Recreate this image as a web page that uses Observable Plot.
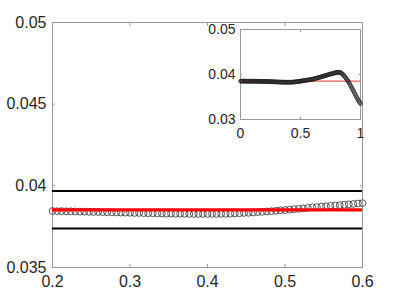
<!DOCTYPE html>
<html>
<head>
<meta charset="utf-8">
<script src="https://cdn.jsdelivr.net/npm/d3@7"></script>
<script src="https://cdn.jsdelivr.net/npm/@observablehq/plot@0.6"></script>
<style>
  html, body { margin: 0; padding: 0; background: white; }
  #wrap { position: relative; width: 400px; height: 300px; }
  #inset { position: absolute; left: 200px; top: 14px; }
</style>
</head>
<body>
<div id="wrap"><div id="main"></div><div id="inset"></div></div>
<script>
// sampled values (x grid 0..1 in 170 steps)
const yValues = [
  0.03852,0.03852,0.03852,0.03852,0.03852,0.03852,0.03852,0.03852,0.03852,0.03851,
  0.03851,0.03851,0.03851,0.03851,0.03851,0.03851,0.03851,0.03850,0.03850,0.03850,
  0.03850,0.03850,0.03849,0.03849,0.03849,0.03849,0.03848,0.03848,0.03848,0.03847,
  0.03847,0.03847,0.03847,0.03846,0.03846,0.03845,0.03845,0.03844,0.03844,0.03843,
  0.03842,0.03842,0.03841,0.03840,0.03840,0.03839,0.03838,0.03838,0.03837,0.03836,
  0.03836,0.03835,0.03834,0.03834,0.03833,0.03832,0.03832,0.03831,0.03831,0.03830,
  0.03830,0.03829,0.03829,0.03829,0.03828,0.03828,0.03828,0.03828,0.03828,0.03828,
  0.03828,0.03829,0.03829,0.03830,0.03831,0.03832,0.03834,0.03835,0.03837,0.03839,
  0.03841,0.03843,0.03845,0.03847,0.03850,0.03852,0.03854,0.03857,0.03859,0.03862,
  0.03865,0.03868,0.03870,0.03873,0.03875,0.03877,0.03880,0.03882,0.03884,0.03887,
  0.03889,0.03892,0.03894,0.03898,0.03902,0.03907,0.03911,0.03915,0.03919,0.03924,
  0.03928,0.03933,0.03937,0.03942,0.03946,0.03951,0.03956,0.03960,0.03965,0.03970,
  0.03975,0.03979,0.03984,0.03989,0.03994,0.03998,0.04003,0.04008,0.04012,0.04017,
  0.04021,0.04025,0.04029,0.04033,0.04037,0.04041,0.04045,0.04048,0.04050,0.04050,
  0.04048,0.04045,0.04040,0.04030,0.04018,0.04003,0.03985,0.03966,0.03946,0.03926,
  0.03905,0.03884,0.03862,0.03840,0.03810,0.03780,0.03750,0.03721,0.03692,0.03664,
  0.03635,0.03603,0.03572,0.03540,0.03511,0.03482,0.03453,0.03425,0.03400,0.03375,
  0.03350
];
const nSteps = 170;
const meanValue = 0.03853;
const boundValues = [0.03969, 0.03739];

const mainXDomain = [0.2, 0.6];
const mainYDomain = [0.035, 0.05];
const mainXTicks = [0.2, 0.3, 0.4, 0.5, 0.6];
const mainYTicks = [0.035, 0.04, 0.045, 0.05];
const insetXDomain = [0, 1];
const insetYDomain = [0.03, 0.05];
const insetXTicks = [0, 0.5, 1];
const insetYTicks = [0.03, 0.04, 0.05];

const data = yValues.map((y, i) => ({x: i / nSteps, y}));
const mainData = data.filter(d => d.x >= mainXDomain[0] - 1e-9 && d.x <= mainXDomain[1] + 1e-9);

const fmt = d => String(d);
const blank = () => "";
const axisGray = "#999";
const textCol = "#262626";
const font = "'Liberation Sans', Arial, Helvetica, sans-serif";

const mainPlot = Plot.plot({
  width: 400, height: 300,
  marginLeft: 52, marginRight: 38, marginTop: 22, marginBottom: 33,
  x: {domain: mainXDomain},
  y: {domain: mainYDomain},
  style: {fontFamily: font, background: "transparent"},
  marks: [
    Plot.frame({stroke: axisGray}),
    Plot.axisX({anchor: "bottom", ticks: mainXTicks, tickSize: -3, tickPadding: 11, tickFormat: fmt, fontSize: 16, stroke: axisGray, fill: textCol, label: null}),
    Plot.axisX({anchor: "top", ticks: mainXTicks, tickSize: -3, tickFormat: blank, stroke: axisGray, label: null}),
    Plot.axisY({anchor: "left", ticks: mainYTicks, tickSize: -3, tickPadding: 9, tickFormat: fmt, fontSize: 16, stroke: axisGray, fill: textCol, label: null}),
    Plot.axisY({anchor: "right", ticks: mainYTicks, tickSize: -3, tickFormat: blank, stroke: axisGray, label: null}),
    Plot.ruleY(boundValues, {stroke: "black", strokeWidth: 2}),
    Plot.dot(mainData, {x: "x", y: "y", r: 3.4, stroke: "#444", strokeWidth: 0.9, fill: "none"}),
    Plot.ruleY([meanValue], {stroke: "#ff0000", strokeWidth: 3.2})
  ]
});
document.getElementById("main").appendChild(mainPlot);

const insetPlot = Plot.plot({
  width: 170, height: 135,
  marginLeft: 40, marginRight: 10, marginTop: 15, marginBottom: 30,
  x: {domain: insetXDomain},
  y: {domain: insetYDomain},
  style: {fontFamily: font, background: "transparent"},
  marks: [
    Plot.frame({fill: "white", stroke: axisGray}),
    Plot.axisX({anchor: "bottom", ticks: insetXTicks, tickSize: -2, tickPadding: 11, tickFormat: fmt, fontSize: 14, stroke: axisGray, fill: textCol, label: null}),
    Plot.axisX({anchor: "top", ticks: insetXTicks, tickSize: -2, tickFormat: blank, stroke: axisGray, label: null}),
    Plot.axisY({anchor: "left", ticks: insetYTicks, tickSize: -2, tickPadding: 7, tickFormat: fmt, fontSize: 14, stroke: axisGray, fill: textCol, label: null}),
    Plot.axisY({anchor: "right", ticks: insetYTicks, tickSize: -2, tickFormat: blank, stroke: axisGray, label: null}),
    Plot.ruleY([meanValue], {stroke: "#ff0000", strokeWidth: 0.8}),
    Plot.dot(data, {x: "x", y: "y", r: 1.9, stroke: "#222", strokeWidth: 0.7, fill: "none"})
  ]
});
document.getElementById("inset").appendChild(insetPlot);
</script>
</body>
</html>
